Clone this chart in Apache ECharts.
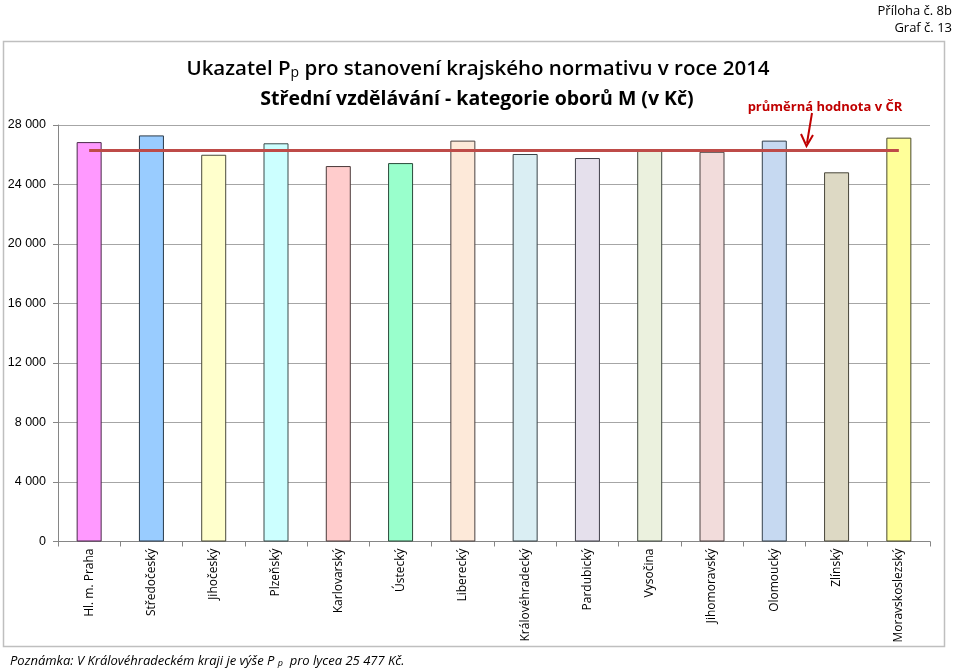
<!DOCTYPE html>
<html>
<head>
<meta charset="utf-8">
<script src="https://cdn.jsdelivr.net/npm/echarts@6/dist/echarts.min.js"></script>
<style>html,body{margin:0;padding:0;background:#fff;}#c{width:959px;height:668px;}</style>
</head>
<body>
<div id="c"></div>
<script>
const categories = ['Hl. m. Praha','Středočeský','Jihočeský','Plzeňský','Karlovarský','Ústecký','Liberecký','Královéhradecký','Pardubický','Vysočina','Jihomoravský','Olomoucký','Zlínský','Moravskoslezský'];
const values = [26850, 27300, 26000, 26770, 25240, 25440, 26950, 26050, 25780, 26380, 26200, 26950, 24820, 27150];
const avgLine = [26280, 26280, 26280, 26280, 26280, 26280, 26280, 26280, 26280, 26280, 26280, 26280, 26280, 26280];
const barColors = ['#FF99FF','#99CCFF','#FFFFCC','#CCFFFF','#FFCCCC','#99FFCC','#FDE9D9','#DAEEF3','#E5E0EC','#EBF1DE','#F2DCDB','#C6D9F1','#DDD9C4','#FFFF99'];
const borderColors = ['#4a2a4a','#2a3a4a','#4a4a3a','#3a4a4a','#4a3a3a','#2a4a3a','#4a4040','#3a4448','#40404a','#404a40','#4a4040','#34404c','#48463a','#4a4a2a'];
const yTicks = [0, 4000, 8000, 12000, 16000, 20000, 24000, 28000];

const chart = echarts.init(document.getElementById('c'), null, {renderer: 'canvas'});
const option = {
  backgroundColor: '#fff',
  animation: false,
  grid: {left: 58, right: 29, top: 125, bottom: 126.5, containLabel: false},
  title: [
    {
      text: '{a|Ukazatel P}{s|p}{a| pro stanovení krajského normativu v roce 2014}',
      left: 473, top: 54, textAlign: 'center',
      textStyle: {rich: {
        a: {fontFamily: 'Open Sans', fontSize: 20.5, color: '#000', fontWeight: 600},
        s: {fontFamily: 'Open Sans', fontSize: 14, color: '#000', fontWeight: 'normal', verticalAlign: 'bottom', padding: [6,0,0,0]}
      }}
    },
    {
      text: 'Střední vzdělávání - kategorie oborů M (v Kč)',
      left: 472, top: 84, textAlign: 'center',
      textStyle: {fontFamily: 'Open Sans', fontSize: 19.5, fontWeight: 'bold', color: '#000'}
    },
    {
      text: 'průměrná hodnota v ČR',
      left: 820, top: 96, textAlign: 'center',
      textStyle: {fontFamily: 'Open Sans', fontSize: 13, fontWeight: 'bold', color: '#C00000'}
    },
    {
      text: 'Příloha č. 8b',
      right: 2, top: 0,
      textStyle: {fontFamily: 'Open Sans', fontSize: 13, fontWeight: 'normal', color: '#000'}
    },
    {
      text: 'Graf č. 13',
      right: 2, top: 17,
      textStyle: {fontFamily: 'Open Sans', fontSize: 13, fontWeight: 'normal', color: '#000'}
    },
    {
      text: '{a|Poznámka: V Královéhradeckém kraji je výše P }{s|p}{a|  pro lycea 25 477 Kč.}',
      left: 5, top: 650,
      textStyle: {rich: {
        a: {fontFamily: 'Open Sans', fontSize: 13, fontStyle: 'italic', fontWeight: 'normal', color: '#000'},
        s: {fontFamily: 'Open Sans', fontSize: 9, fontStyle: 'italic', fontWeight: 'normal', color: '#000', verticalAlign: 'bottom'}
      }}
    }
  ],
  graphic: [
    {type: 'rect', shape: {x: 3.5, y: 41.5, width: 941, height: 605}, style: {fill: 'none', stroke: '#BFBFBF', lineWidth: 1.5}, z: -1},
    {type: 'line', shape: {x1: 812, y1: 113, x2: 807, y2: 143}, style: {stroke: '#C00000', lineWidth: 2}, z: 100},
    {type: 'polyline', shape: {points: [[801, 134], [806.5, 146], [813, 135]]}, style: {stroke: '#C00000', lineWidth: 2, fill: 'none'}, z: 100}
  ],
  xAxis: {
    type: 'category',
    data: categories,
    boundaryGap: true,
    axisLine: {show: true, lineStyle: {color: '#868686', width: 1}},
    axisTick: {show: true, interval: 0, length: 5, lineStyle: {color: '#868686'}},
    axisLabel: {interval: 0, rotate: 90, margin: 7, fontFamily: 'Open Sans', fontSize: 12, color: '#000'}
  },
  yAxis: {
    type: 'value',
    min: 0, max: 28000, interval: 4000,
    axisLine: {show: true, lineStyle: {color: '#868686', width: 1}},
    axisTick: {show: true, length: 5, lineStyle: {color: '#868686'}},
    splitLine: {show: true, lineStyle: {color: '#A6A6A6', width: 1}},
    axisLabel: {
      margin: 12, fontFamily: 'Liberation Sans', fontSize: 12.5, color: '#000',
      formatter: v => yTicks.includes(v) ? String(v).replace(/\B(?=(\d{3})+(?!\d))/g, ' ') : ''
    }
  },
  series: [
    {
      type: 'bar',
      data: values.map((v, i) => ({value: v, itemStyle: {color: barColors[i], borderColor: borderColors[i], borderWidth: 1}})),
      barWidth: 25,
      z: 2
    },
    {
      type: 'line',
      data: avgLine,
      showSymbol: false,
      symbol: 'none',
      lineStyle: {color: '#BE4B48', width: 3},
      z: 5
    }
  ]
};
chart.setOption(option);
</script>
</body>
</html>
